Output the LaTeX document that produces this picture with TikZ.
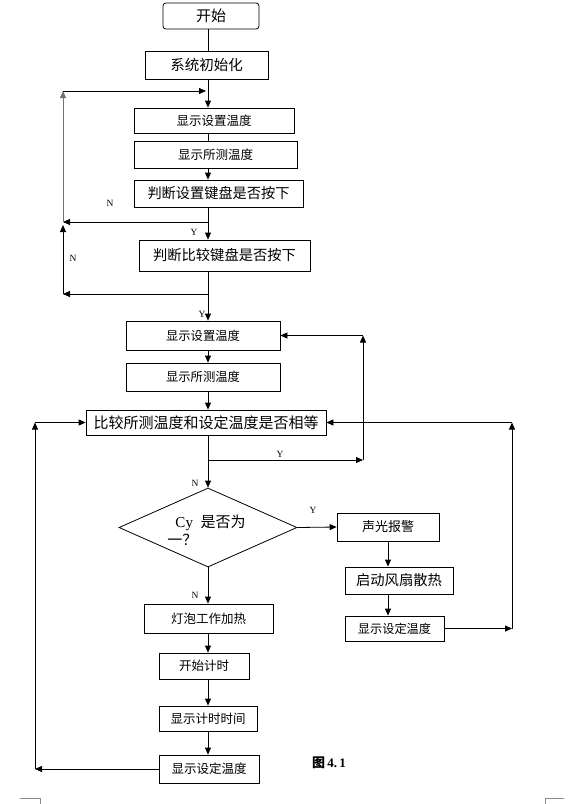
\documentclass[tikz,border=0pt]{standalone}
\usepackage{fontspec}
\setmainfont{Liberation Serif}
\newfontfamily\cjk{Noto Sans CJK SC}
\usetikzlibrary{arrows.meta}
\usetikzlibrary{shapes.geometric}

\tikzset{
  box/.style={draw,line width=0.8pt,inner sep=0pt,font=\cjk\fontsize{12.5}{14}\selectfont},
  arr/.style={line width=0.8pt,-{Triangle[length=7pt,width=6pt]}},
  lin/.style={line width=0.8pt},
  yn/.style={inner sep=0pt,font=\fontsize{9.5}{10}\selectfont}
}

\begin{document}
\begin{tikzpicture}[x=1pt,y=-1pt]
\useasboundingbox (0,0) rectangle (576,804);

\coordinate (ax) at (208,0);
\coordinate (T) at (63,91);
\coordinate (Tr) at (206,91);
\coordinate (L1) at (63,222);
\coordinate (L2) at (63,294);
\coordinate (L3) at (63,225);
\coordinate (R1) at (363,460);
\coordinate (R2) at (512,0);
\coordinate (L4) at (35,0);

\node[box,rounded corners=3pt,minimum width=96pt,minimum height=26pt,font=\cjk\fontsize{15}{17}\selectfont] (start) at (211,16) {开始};
\node[box,minimum width=123pt,minimum height=28pt,font=\cjk\fontsize{14.5}{16}\selectfont] (init) at (206.5,65) {系统初始化};
\node[box,minimum width=160pt,minimum height=25pt] (set1) at (214,120.5) {显示设置温度};
\node[box,minimum width=163pt,minimum height=27pt] (meas1) at (215.5,154.5) {显示所测温度};
\node[box,minimum width=169pt,minimum height=27pt,font=\cjk\fontsize{14.2}{16}\selectfont] (key1) at (218.5,193.5) {判断设置键盘是否按下};
\node[box,minimum width=171pt,minimum height=31pt,font=\cjk\fontsize{14.3}{16}\selectfont] (key2) at (224.5,255.5) {判断比较键盘是否按下};
\node[box,minimum width=154pt,minimum height=29pt,font=\cjk\fontsize{12.3}{14}\selectfont] (set2) at (203,335.5) {显示设置温度};
\node[box,minimum width=154pt,minimum height=28pt,font=\cjk\fontsize{12.3}{14}\selectfont] (meas2) at (203,377) {显示所测温度};
\node[box,minimum width=240pt,minimum height=25pt,font=\cjk\fontsize{15}{17}\selectfont] (cmp) at (206,422.5) {比较所测温度和设定温度是否相等};
\node[draw,diamond,line width=0.8pt,inner sep=0pt,minimum width=178pt,minimum height=79pt] (cy) at (208,527.5) {};
\node[align=left,inner sep=0pt,font=\fontsize{15}{18}\selectfont] (cytext) at (206.5,530) {\hspace*{8pt}Cy\ \ {\cjk 是否为}\\{\cjk 一？}};
\node[box,minimum width=102pt,minimum height=28pt,font=\cjk\fontsize{13}{15}\selectfont] (alarm) at (388,527) {声光报警};
\node[box,minimum width=108pt,minimum height=27pt,font=\cjk\fontsize{14.3}{16}\selectfont] (fan) at (399,580.5) {启动风扇散热};
\node[box,minimum width=99pt,minimum height=25pt,font=\cjk\fontsize{12.2}{14}\selectfont] (setR) at (394.5,628.5) {显示设定温度};
\node[box,minimum width=129pt,minimum height=29pt] (heat) at (208.5,618.5) {灯泡工作加热};
\node[box,minimum width=90pt,minimum height=26pt] (timer) at (204,666) {开始计时};
\node[box,minimum width=98pt,minimum height=25pt] (showt) at (208,718.5) {显示计时时间};
\node[box,minimum width=100pt,minimum height=28pt] (setB) at (209,769) {显示设定温度};
\node[inner sep=0pt,font=\fontsize{13}{15}\selectfont] (fig) at (329,763) {{\cjk\bfseries 图}\,\textbf{4.\,1}};

\node[yn] (n1) at (110,203) {N};
\node[yn] (y1) at (194,232) {Y};
\node[yn] (n2) at (73,258) {N};
\node[yn] (y2) at (202,314) {Y};
\node[yn] (y3) at (280,454) {Y};
\node[yn] (n3) at (195,483) {N};
\node[yn] (y4) at (313,510) {Y};
\node[yn] (n4) at (195,595) {N};

\draw[lin] (start.south -| ax) -- (init.north -| ax);
\draw[arr] (init.south -| ax) -- (set1.north -| ax);
\draw[lin] (set1.south -| ax) -- (meas1.north -| ax);
\draw[arr] (meas1.south -| ax) -- (key1.north -| ax);
\draw[arr] (key1.south -| ax) -- (key2.north -| ax);
\draw[arr] (L1 -| ax) -- (L1);
\draw[arr,black!55] (L1) -- (T);
\draw[arr] (T) -- (Tr);
\draw[arr] (key2.south -| ax) -- (set2.north -| ax);
\draw[arr] (L2 -| ax) -- (L2);
\draw[arr] (L2) -- (L3);
\draw[arr] (set2.south -| ax) -- (meas2.north -| ax);
\draw[arr] (meas2.south -| ax) -- (cmp.north -| ax);
\draw[arr] (cmp.south -| ax) |- (R1);
\draw[arr] (R1) -- (R1 |- set2.east);
\draw[arr] (R1 |- set2.east) -- (set2.east);
\draw[arr] (cmp.south -| ax) -- (cy.north);
\draw[arr] (cy.east) -- (alarm.west);
\draw[arr] (alarm.south) -- (alarm.south |- fan.north);
\draw[arr] (fan.south -| alarm.south) -- (setR.north -| alarm.south);
\draw[arr] (setR.east) -- (setR.east -| R2);
\draw[arr] (setR.east -| R2) -- (cmp.east -| R2);
\draw[arr] (cmp.east -| R2) -- (cmp.east);
\draw[arr] (cy.south) -- (heat.north -| cy.south);
\draw[arr] (heat.south -| ax) -- (timer.north -| ax);
\draw[arr] (timer.south -| ax) -- (showt.north -| ax);
\draw[arr] (showt.south -| ax) -- (setB.north -| ax);
\draw[arr] (setB.west) -- (setB.west -| L4);
\draw[arr] (setB.west -| L4) -- (cmp.west -| L4);
\draw[arr] (cmp.west -| L4) -- (cmp.west);

\draw[black!45] (20,798) -- (40,798) -- (40,804);
\draw[black!45] (564,798) -- (545,798) -- (545,804);

\end{tikzpicture}
\end{document}
